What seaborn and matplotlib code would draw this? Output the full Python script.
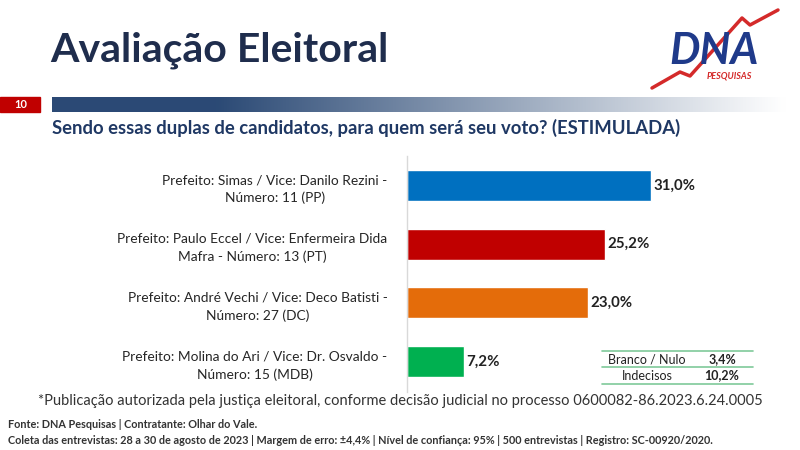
import numpy as np
import matplotlib
matplotlib.use("Agg")
import matplotlib.pyplot as plt
from matplotlib.lines import Line2D
from matplotlib.patches import Rectangle
import seaborn as sns

# dados
candidatos = [
    "Prefeito: Simas / Vice: Danilo Rezini -\nNúmero: 11 (PP)",
    "Prefeito: Paulo Eccel / Vice: Enfermeira Dida\nMafra - Número: 13 (PT)",
    "Prefeito: André Vechi / Vice: Deco Batisti -\nNúmero: 27 (DC)",
    "Prefeito: Molina do Ari / Vice: Dr. Osvaldo -\nNúmero: 15 (MDB)",
]
votos = [31.0, 25.2, 23.0, 7.2]
cores = ["#0070C0", "#C00000", "#E46C0A", "#00B050"]
outros_nomes = ["Branco / Nulo", "Indecisos"]
outros_valores = [3.4, 10.2]

sns.set_theme(style="white")
plt.rcParams["font.family"] = ["Lato", "DejaVu Sans"]

W, H = 800, 450
fig = plt.figure(figsize=(8, 4.5), dpi=100)
navy = "#1F2D4D"


def px(x, y):
    return x / W, 1 - y / H


# titulo
fig.text(*px(50, 50), "Avaliação Eleitoral", fontsize=29.5, fontweight="bold",
         color=navy, va="center", ha="left")

# logo DNA
zx = [652, 680, 690, 742, 750, 778]
zy = [88, 72, 76, 18, 25, 10]
fig.add_artist(Line2D([x / W for x in zx], [1 - y / H for y in zy], color="#D42A2A",
                      lw=2.5, transform=fig.transFigure, zorder=1))
fig.text(*px(714, 51), "DNA", fontsize=31, fontweight="bold", style="italic",
         color="#1F3A8A", ha="center", va="center", zorder=2)
fig.text(*px(729, 76), "PESQUISAS", fontsize=6.5, fontweight="bold", style="italic",
         color="#D42A2A", ha="center", va="center", zorder=2)

# barra do numero da pagina + gradiente
fig.add_artist(Rectangle(px(0, 112), 40 / W, 15 / H, color="#C00000",
                         transform=fig.transFigure))
fig.text(*px(21, 105), "10", fontsize=8, fontweight="bold", color="white",
         ha="center", va="center")
gax = fig.add_axes([52 / W, 1 - 112 / H, 1 - 52 / W, 15 / H])
t = np.linspace(0, 1, 300)
g = np.clip((t - 0.22) / 0.76, 0, 1)[None, :]
c0 = np.array([0.17, 0.29, 0.46])
c1 = np.array([1.0, 1.0, 1.0])
img = c0[None, None, :] * (1 - g[..., None]) + c1[None, None, :] * g[..., None]
gax.imshow(img, aspect="auto", extent=[0, 1, 0, 1])
gax.axis("off")

fig.text(*px(52, 128), "Sendo essas duplas de candidatos, para quem será seu voto? (ESTIMULADA)",
         fontsize=13.3, fontweight="bold", color="#1F3864", ha="left", va="center")

# grafico de barras
ax = fig.add_axes([407 / W, 1 - 392 / H, 315 / W, 236 / H])
sns.barplot(x=votos, y=candidatos, hue=candidatos, palette=cores, legend=False,
            width=0.53, orient="h", ax=ax, saturation=1)
ax.set_xlim(0, 40)
ax.set_ylim(3.52, -0.5)
for s in ["top", "right", "bottom"]:
    ax.spines[s].set_visible(False)
ax.spines["left"].set_color("#D9D9D9")
ax.spines["left"].set_linewidth(1)
ax.set_xticks([])
ax.tick_params(axis="y", length=0, pad=14)
for lab in ax.get_yticklabels():
    lab.set_ha("right")
    lab.set_multialignment("center")
    lab.set_fontsize(9.9)
    lab.set_color("#262626")
    lab.set_linespacing(1.55)
ax.set_xlabel("")
ax.set_ylabel("")
for i, v in enumerate(votos):
    ax.text(v + 0.3, i, f"{v:.1f}%".replace(".", ","), va="center", ha="left",
            fontsize=10.8, fontweight="bold", color="#222222")

# tabela brancos / indecisos
linha_y = [351, 367, 384]
for yy in linha_y:
    fig.add_artist(Line2D([602 / W, 753 / W], [1 - yy / H] * 2, color="#7FC99A",
                          lw=1.2, transform=fig.transFigure))
for k, (nome, val) in enumerate(zip(outros_nomes, outros_valores)):
    ym = (linha_y[k] + linha_y[k + 1]) / 2
    fig.text(*px(647, ym), nome, fontsize=9, color="#222222", ha="center", va="center")
    fig.text(*px(722, ym), f"{val:.1f}%".replace(".", ","), fontsize=9,
             fontweight="bold", color="#222222", ha="center", va="center")

fig.text(*px(38, 401),
         "*Publicação autorizada pela justiça eleitoral, conforme decisão judicial no processo 0600082-86.2023.6.24.0005",
         fontsize=10.5, color="#333333", ha="left", va="center")

fig.text(*px(8, 424), "Fonte: DNA Pesquisas | Contratante: Olhar do Vale.",
         fontsize=7.85, fontweight="bold", color="#333333", ha="left", va="center")
fig.text(*px(8, 440),
         "Coleta das entrevistas: 28 a 30 de agosto de 2023 | Margem de erro: ±4,4% | Nível de confiança: 95% | 500 entrevistas | Registro: SC-00920/2020.",
         fontsize=7.85, fontweight="bold", color="#333333", ha="left", va="center")

fig.savefig("out.png", dpi=100, facecolor="white")
